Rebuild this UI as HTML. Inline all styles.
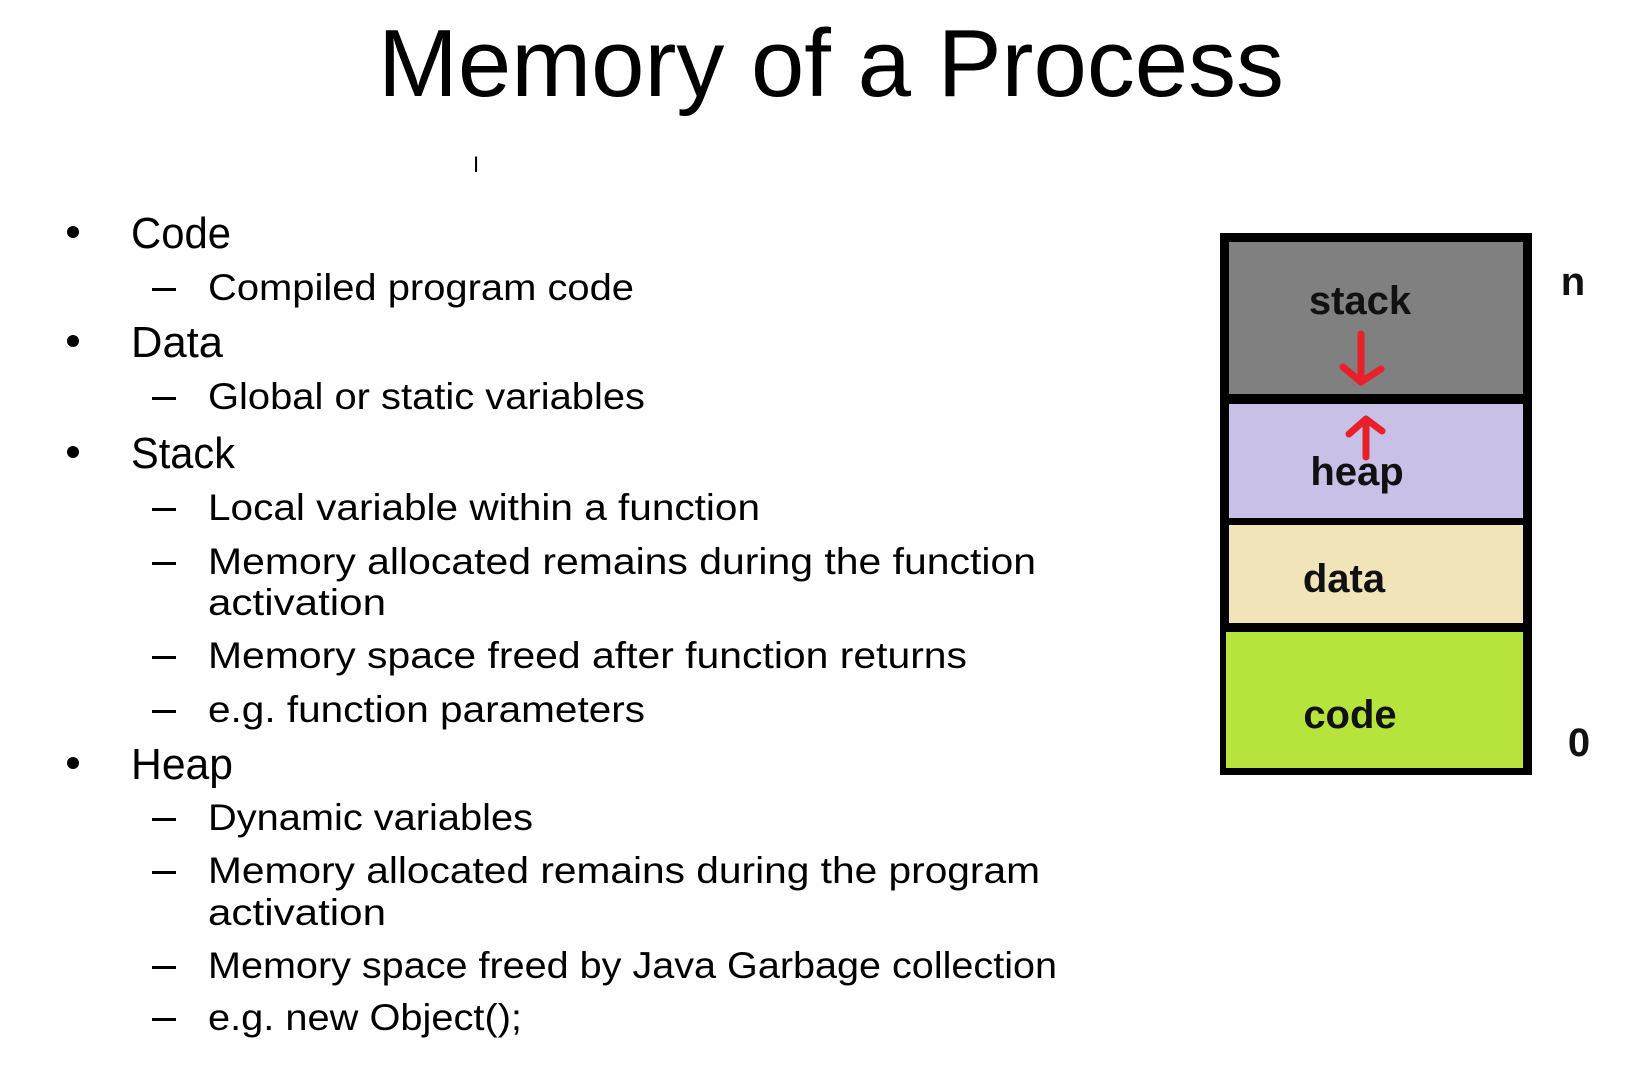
<!DOCTYPE html>
<html><head><meta charset="utf-8"><style>
html,body{margin:0;padding:0;background:#fff;width:1636px;height:1072px;overflow:hidden}
svg{display:block}
text{font-family:"Liberation Sans",sans-serif;fill:#000}
.b{font-size:44px}
.s{font-size:37px}
.l{font-size:40px;font-weight:bold;fill:#111}
</style></head><body>
<svg width="1636" height="1072" viewBox="0 0 1636 1072" xmlns="http://www.w3.org/2000/svg">
<rect width="1636" height="1072" fill="#fff"/>
<text x="378" y="96" font-size="96" textLength="906" lengthAdjust="spacingAndGlyphs">Memory of a Process</text>
<text x="473" y="172" font-size="22" font-family="Liberation Serif">I</text>

<g transform="translate(0,-2)">
<circle cx="73" cy="234" r="6"/><text class="b" x="131" y="250" textLength="100" lengthAdjust="spacingAndGlyphs">Code</text>
<rect x="152" y="290" width="24" height="3"/><text class="s" x="208" y="302" textLength="426" lengthAdjust="spacingAndGlyphs">Compiled program code</text>
<circle cx="73" cy="343" r="6"/><text class="b" x="131" y="359" textLength="92" lengthAdjust="spacingAndGlyphs">Data</text>
<rect x="152" y="399" width="24" height="3"/><text class="s" x="208" y="411" textLength="437" lengthAdjust="spacingAndGlyphs">Global or static variables</text>
<circle cx="73" cy="454" r="6"/><text class="b" x="131" y="470" textLength="104" lengthAdjust="spacingAndGlyphs">Stack</text>
<rect x="152" y="510" width="24" height="3"/><text class="s" x="208" y="522" textLength="552" lengthAdjust="spacingAndGlyphs">Local variable within a function</text>
<rect x="152" y="564" width="24" height="3"/><text class="s" x="208" y="576" textLength="828" lengthAdjust="spacingAndGlyphs">Memory allocated remains during the function</text>
<text class="s" x="208" y="617" textLength="178" lengthAdjust="spacingAndGlyphs">activation</text>
<rect x="152" y="658" width="24" height="3"/><text class="s" x="208" y="670" textLength="759" lengthAdjust="spacingAndGlyphs">Memory space freed after function returns</text>
<rect x="152" y="712" width="24" height="3"/><text class="s" x="208" y="724" textLength="437" lengthAdjust="spacingAndGlyphs">e.g. function parameters</text>
<circle cx="73" cy="765" r="6"/><text class="b" x="131" y="781" textLength="102" lengthAdjust="spacingAndGlyphs">Heap</text>
<rect x="152" y="820" width="24" height="3"/><text class="s" x="208" y="832" textLength="325" lengthAdjust="spacingAndGlyphs">Dynamic variables</text>
<rect x="152" y="873" width="24" height="3"/><text class="s" x="208" y="885" textLength="832" lengthAdjust="spacingAndGlyphs">Memory allocated remains during the program</text>
<text class="s" x="208" y="927" textLength="178" lengthAdjust="spacingAndGlyphs">activation</text>
<rect x="152" y="968" width="24" height="3"/><text class="s" x="208" y="980" textLength="849" lengthAdjust="spacingAndGlyphs">Memory space freed by Java Garbage collection</text>
<rect x="152" y="1020" width="24" height="3"/><text class="s" x="208" y="1032" textLength="314" lengthAdjust="spacingAndGlyphs">e.g. new Object();</text>
</g>

<g transform="translate(-7,-3)">
<rect x="1227" y="236" width="312" height="542" fill="#000"/>
<rect x="1236" y="245" width="294" height="152" fill="#808080"/>
<rect x="1236" y="407" width="294" height="114" fill="#c8c0e6"/>
<rect x="1236" y="528" width="294" height="98" fill="#f0e4b8"/>
<rect x="1233" y="635" width="297" height="136" fill="#b6e43c"/>
<text class="l" x="1367" y="317" text-anchor="middle">stack</text>
<text class="l" x="1364" y="488" text-anchor="middle">heap</text>
<text class="l" x="1351" y="595" text-anchor="middle">data</text>
<text class="l" x="1357" y="731" text-anchor="middle">code</text>
<text class="l" x="1580" y="298" text-anchor="middle">n</text>
<text class="l" x="1586" y="759" text-anchor="middle">0</text>
<g stroke="#e8202a" stroke-width="7" fill="none" stroke-linecap="round" stroke-linejoin="round">
<path d="M1368 337 L1368 385 M1350 370 L1368 385 L1388 372"/>
<path d="M1373 460 L1373 424 M1356 437 L1373 422 L1389 434"/>
</g>
</g>
</svg>
</body></html>
